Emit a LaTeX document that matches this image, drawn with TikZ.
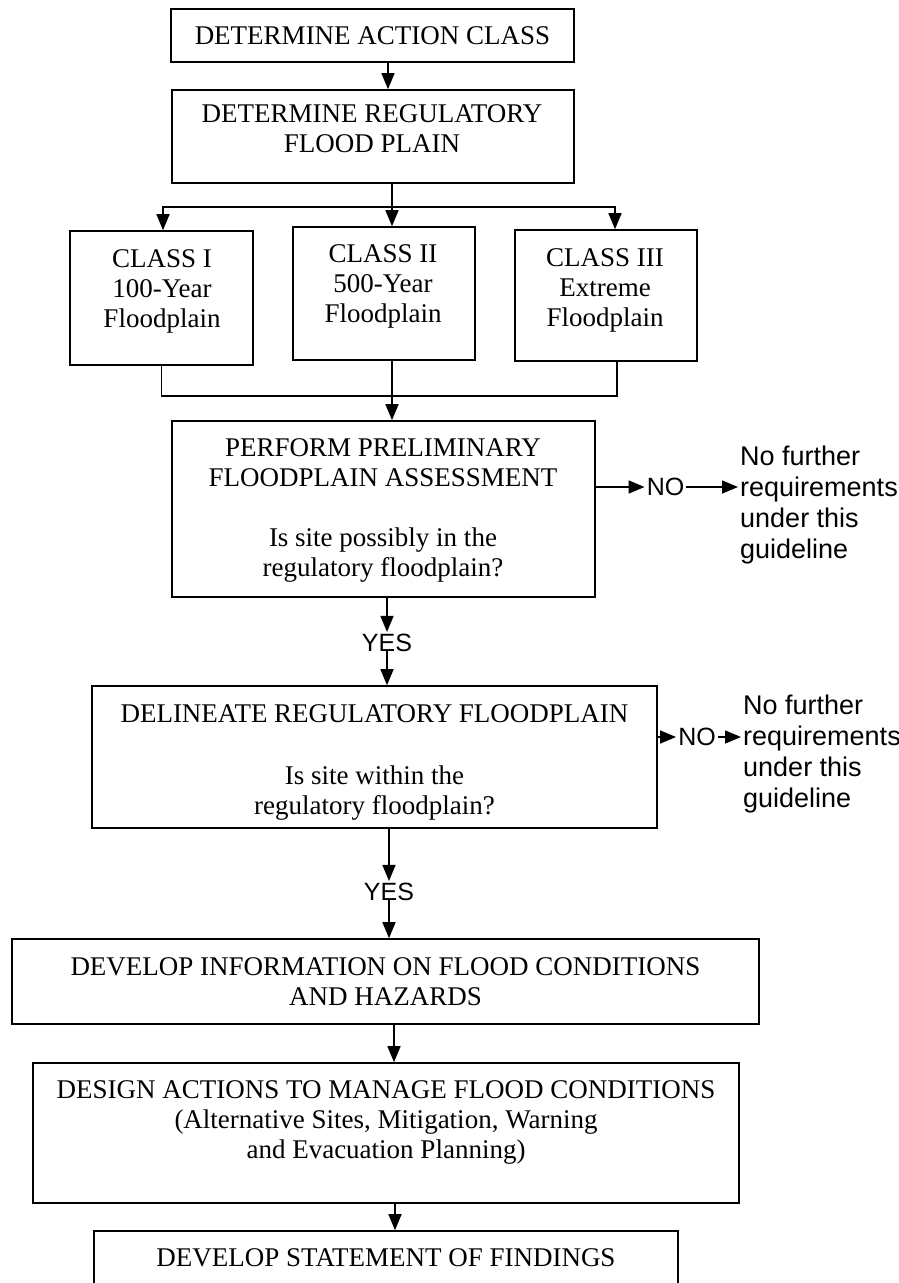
\documentclass[tikz,border=0pt]{standalone}
\usepackage{fontspec}
\setmainfont{Liberation Serif}
\newfontfamily\sansf{Liberation Sans}
\usetikzlibrary{arrows.meta}
\begin{document}
\begin{tikzpicture}[x=1pt,y=-1pt,
  box/.style={draw, line width=1.6pt, inner sep=0pt},
  txt/.style={font=\fontsize{27}{30}\selectfont, align=center, inner sep=1pt, anchor=base},
  side/.style={font=\sansf\fontsize{27}{31}\selectfont, align=left, inner sep=2pt, anchor=base west},
  yn/.style={font=\sansf\fontsize{25}{30}\selectfont, inner sep=2pt},
  conn/.style={line width=1.5pt},
  arr/.style={conn, -{Triangle[length=16pt,width=13pt]}}]
\useasboundingbox (0,0) rectangle (899,1283);
\clip (0,0) rectangle (899,1283);
% boxes
\node[box, minimum width=403pt, minimum height=53pt, font=\fontsize{27}{30}\selectfont] (a) at (372.5,35.5) {DETERMINE ACTION CLASS};
\node[box, minimum width=402pt, minimum height=93pt] (b) at (373,136.5) {};
\node[txt] (bt) at (372,152) {DETERMINE REGULATORY\\FLOOD PLAIN};
\node[box, minimum width=183pt, minimum height=134pt] (c1) at (161.5,298) {};
\node[txt] (c1t) at (162,327) {CLASS I\\100-Year\\Floodplain};
\node[box, minimum width=182pt, minimum height=133pt] (c2) at (384,293.5) {};
\node[txt] (c2t) at (383,322) {CLASS II\\500-Year\\Floodplain};
\node[box, minimum width=182pt, minimum height=131pt] (c3) at (606,295.5) {};
\node[txt] (c3t) at (605,326) {CLASS III\\Extreme\\Floodplain};
\node[box, minimum width=423pt, minimum height=176pt] (d) at (383.5,509) {};
\node[txt] (dt) at (383,576) {PERFORM PRELIMINARY\\FLOODPLAIN ASSESSMENT\\[30pt]Is site possibly in the\\regulatory floodplain?};
\node[box, minimum width=565pt, minimum height=142pt] (e) at (374.5,757) {};
\node[txt] (et) at (374.5,814) {DELINEATE REGULATORY FLOODPLAIN\\[32pt]Is site within the\\regulatory floodplain?};
\node[box, minimum width=747pt, minimum height=85pt, font=\fontsize{27}{30}\selectfont, align=center] (f) at (385.5,981.5) {DEVELOP INFORMATION ON FLOOD CONDITIONS\\AND HAZARDS};
\node[box, minimum width=706pt, minimum height=140pt] (g) at (386,1133) {};
\node[txt] (gt) at (386,1158) {DESIGN ACTIONS TO MANAGE FLOOD CONDITIONS\\(Alternative Sites, Mitigation, Warning\\and Evacuation Planning)};
\node[box, minimum width=584pt, minimum height=80pt] (h) at (386,1271) {};
\node[txt] (ht) at (386,1266) {DEVELOP STATEMENT OF FINDINGS};
% side texts
\node[yn] (no1) at (665.5,487) {NO};
\node[side] (s1) at (738,558) {No further\\requirements\\under this\\guideline};
\node[yn] (no2) at (697,737) {NO};
\node[side] (s2) at (741,807) {No further\\requirements\\under this\\guideline};
\node[yn] (y1) at (387,643) {YES};
\node[yn] (y2) at (389,892) {YES};
% connectors
\draw[arr] ([xshift=15.5pt]a.south) -- ([xshift=15pt]b.north);
\coordinate (bar) at (392,207);
\draw[conn] ([xshift=19pt]b.south) -- (bar);
\draw[arr] (bar) -| ([xshift=1.5pt]c1.north);
\draw[arr] (bar) -| ([xshift=9pt]c3.north);
\draw[arr] (bar) -- (bar |- c2.north);
\draw[conn] (c1.south) -- ++(0,30) -| ([xshift=11pt]c3.south);
\draw[arr] (bar |- c2.south) -- (bar |- d.north);
\draw[arr] (no1.west -| d.east) -- (no1.west);
\draw[arr] (no1.east) -- (no1.east -| s1.west);
\draw[arr] (y1 |- d.south) -- (y1.north);
\draw[arr] ([yshift=4pt]y1.south) -- (y1 |- e.north);
\draw[arr] (no2.west -| e.east) -- (no2.west);
\draw[arr] (no2.east) -- (no2.east -| s2.west);
\draw[arr] (y2 |- e.south) -- (y2.north);
\draw[arr] ([yshift=4pt]y2.south) -- (y2.south |- f.north);
\draw[arr] ([xshift=8.5pt]f.south) -- ([xshift=8pt]g.north);
\draw[arr] ([xshift=9pt]g.south) -- ([xshift=9pt]h.north);
\end{tikzpicture}
\end{document}
